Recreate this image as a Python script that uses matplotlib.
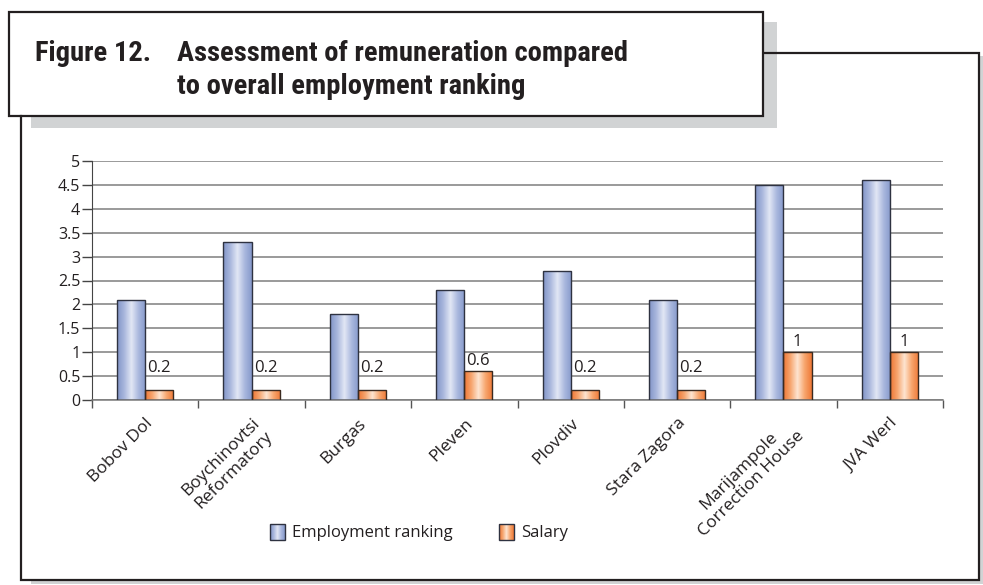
import numpy as np
import matplotlib.pyplot as plt
from matplotlib.colors import LinearSegmentedColormap
from matplotlib.patches import Rectangle

plt.rcParams["font.family"] = ["Open Sans", "DejaVu Sans"]

# Chart data
categories = ["Bobov Dol", "Boychinovtsi\nReformatory", "Burgas", "Pleven",
              "Plovdiv", "Stara Zagora", "Marijampole\nCorrection House", "JVA Werl"]
employment = [2.1, 3.3, 1.8, 2.3, 2.7, 2.1, 4.5, 4.6]
salary = [0.2, 0.2, 0.2, 0.6, 0.2, 0.2, 1, 1]
series_names = ["Employment ranking", "Salary"]
y_ticks = [0, 0.5, 1, 1.5, 2, 2.5, 3, 3.5, 4, 4.5, 5]

W, H = 983, 585
TEXT = "#231f20"

blue_cmap = LinearSegmentedColormap.from_list(
    "blue", ["#8194c7", "#a9b7dd", "#e2e7f5", "#aab8de", "#8699cb"])
orange_cmap = LinearSegmentedColormap.from_list(
    "orange", ["#ee7431", "#f6a56f", "#fee5d1", "#f7a66e", "#ef7836"])
grad = np.linspace(0, 1, 128).reshape(1, -1)

fig = plt.figure(figsize=(W / 100, H / 100), dpi=100)

# decoration layer in pixel coordinates
deco = fig.add_axes([0, 0, 1, 1], zorder=0)

# outer frame + its shadow
deco.add_patch(Rectangle((980, 56), 3, 527, color="#d1d3d4", lw=0))
deco.add_patch(Rectangle((31, 581), 952, 3, color="#d1d3d4", lw=0))
deco.plot([764, 979, 979, 21, 21], [53, 53, 580, 580, 116], color=TEXT, lw=1.6,
          solid_joinstyle="miter")
# title box + shadow
deco.add_patch(Rectangle((31, 22), 746, 106, color="#d1d3d4", lw=0))
deco.add_patch(Rectangle((9, 12), 754, 104, facecolor="white", edgecolor=TEXT, lw=1.6))

title_font = dict(family=["Roboto Condensed", "Roboto", "DejaVu Sans"], weight="bold",
                  fontsize=20.5, color=TEXT, va="baseline")
deco.text(35, 61, "Figure 12.", **title_font)
deco.text(177, 61, "Assessment of remuneration compared", **title_font)
deco.text(177, 94, "to overall employment ranking", **title_font)

# legend drawn by hand so the swatches keep the gradient
for x0, cmap, name in ((270, blue_cmap, series_names[0]), (499, orange_cmap, series_names[1])):
    sw = Rectangle((x0, 524), 15, 16, facecolor="none", edgecolor="#2e3240", lw=1, zorder=3)
    deco.add_patch(sw)
    im = deco.imshow(grad, cmap=cmap, extent=(x0, x0 + 15, 540, 524), aspect="auto", zorder=2)
    im.set_clip_path(sw)
    deco.text(x0 + 22, 533, name, fontsize=12, color=TEXT, va="center")

deco.set_xlim(0, W)
deco.set_ylim(H, 0)
deco.axis("off")

# chart axes
ax = fig.add_axes([92 / W, 1 - 400 / H, (943 - 92) / W, (400 - 161) / H], zorder=1)
ax.patch.set_alpha(0)

x = np.arange(len(categories))
bw = 0.264
b1 = ax.bar(x - bw / 2, employment, bw, facecolor="none", edgecolor="#2e3240", lw=1, zorder=3)
b2 = ax.bar(x + bw / 2, salary, bw, facecolor="none", edgecolor="#3a2a20", lw=1, zorder=3)
for bars, cmap in ((b1, blue_cmap), (b2, orange_cmap)):
    for p in bars:
        x0, y0 = p.get_xy()
        im = ax.imshow(grad, cmap=cmap, extent=(x0, x0 + p.get_width(), y0, y0 + p.get_height()),
                       aspect="auto", zorder=2)
        im.set_clip_path(p)

for xi, v in zip(x, salary):
    ax.text(xi + bw / 2, max(v, 0.45) + 0.22, f"{v:g}", ha="center", va="center",
            fontsize=12, color=TEXT)

ax.set_xlim(-0.5, len(categories) - 0.5)
ax.set_ylim(0, 5)
ax.set_yticks(y_ticks, [f"{t:g}" for t in y_ticks])
ax.set_xticks(x, categories, rotation=45, ha="right", rotation_mode="anchor",
              multialignment="center")
ax.set_xticks(np.arange(len(categories) + 1) - 0.5, minor=True)
ax.tick_params(axis="x", which="major", length=0, pad=11, labelsize=12.5, labelcolor=TEXT)
ax.tick_params(axis="x", which="minor", length=6, width=1, color="#555555", direction="out")
ax.tick_params(axis="y", length=7, width=1, pad=1.5, labelsize=11.5, labelcolor=TEXT,
               color="#444444")

ax.grid(axis="y", color="#7f7f7f", lw=1.1)
ax.set_axisbelow(True)
for s in ("top", "right"):
    ax.spines[s].set_visible(False)
ax.spines["left"].set_color("#444444")
ax.spines["bottom"].set_color("#7a7a7a")
ax.spines["bottom"].set_linewidth(1.1)

fig.savefig("out.png", dpi=100)
